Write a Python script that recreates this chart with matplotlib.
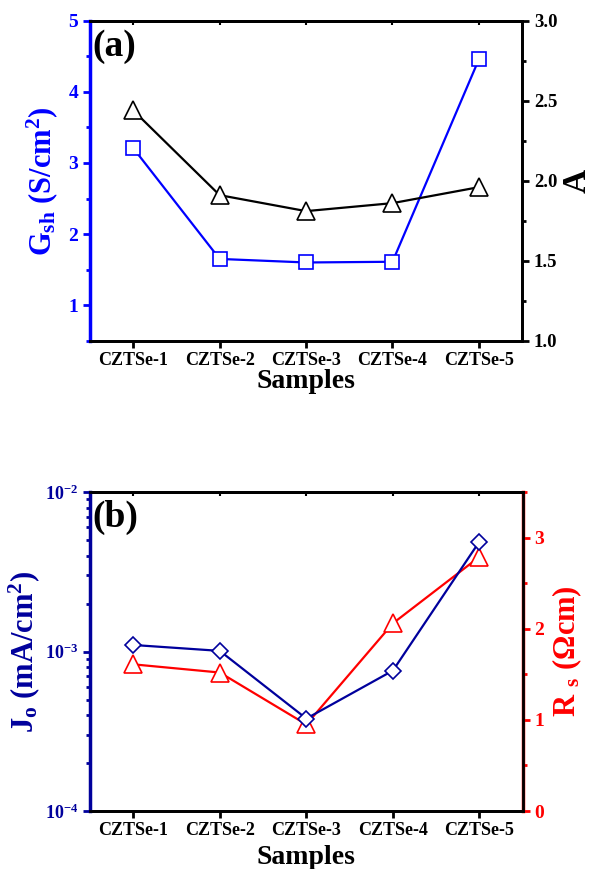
import matplotlib
matplotlib.use('Agg')
import matplotlib.pyplot as plt
from matplotlib.ticker import MultipleLocator, FixedLocator, FixedFormatter, LogLocator, NullFormatter

# Times-like bold everywhere
plt.rcParams['font.family'] = ['Liberation Serif', 'DejaVu Serif']
plt.rcParams['font.weight'] = 'bold'
plt.rcParams['mathtext.fontset'] = 'custom'
plt.rcParams['mathtext.rm'] = 'Liberation Serif:bold'
plt.rcParams['mathtext.it'] = 'Liberation Serif:bold'
plt.rcParams['mathtext.bf'] = 'Liberation Serif:bold'

# Data
samples = ['CZTSe-1', 'CZTSe-2', 'CZTSe-3', 'CZTSe-4', 'CZTSe-5']
g_sh = [3.21, 1.65, 1.60, 1.61, 4.46]
ideality_a = [2.44, 1.91, 1.81, 1.86, 1.96]
j_o = [1.1e-3, 1.01e-3, 3.8e-4, 7.6e-4, 4.9e-3]
r_s = [1.61, 1.52, 0.95, 2.06, 2.79]

x = list(range(1, len(samples) + 1))

blue = '#0000ff'
navy = '#00009c'
red = '#ff0000'

fig = plt.figure(figsize=(5.92, 8.69), dpi=100)


def style_x(ax, pad):
    ax.set_xlim(0.5, 5.5)
    ax.set_xticks(x)
    ax.set_xticklabels(samples, fontsize=13, fontweight='bold')
    ax.tick_params(axis='x', direction='out', length=5, width=2, pad=3)
    top = ax.secondary_xaxis('top')
    top.set_xticks(x)
    top.set_xticklabels([])
    top.tick_params(direction='in', length=3, width=1.5)
    top.spines['top'].set_linewidth(2)
    ax.set_xlabel('Samples', fontsize=20, fontweight='bold', labelpad=pad)


# ---------- (a) ----------
ax1 = fig.add_axes([0.152, 0.608, 0.730, 0.368])
ax1.plot(x, g_sh, color=blue, lw=1.6, marker='s', ms=10, mfc='white',
         mec=blue, mew=1.2, zorder=3)
ax1.set_ylim(0.5, 5)
ax1.yaxis.set_major_locator(FixedLocator([1, 2, 3, 4, 5]))
ax1.yaxis.set_minor_locator(MultipleLocator(0.5))
ax1.tick_params(axis='y', which='major', direction='out', length=5, width=2,
                colors=blue, labelsize=14)
ax1.tick_params(axis='y', which='minor', direction='out', length=3, width=2,
                colors=blue)
ax1.set_ylabel(r'G$_{\rm sh}$ (S/cm$^{2}$)', color=blue, fontsize=22,
               fontweight='bold', labelpad=6)
style_x(ax1, 0)
for s in ax1.spines.values():
    s.set_linewidth(2)
ax1.spines['left'].set_color(blue)
ax1.spines['left'].set_linewidth(2.5)

ax1r = ax1.twinx()
ax1r.plot(x, ideality_a, color='black', lw=1.6, marker='^', ms=13,
          mfc='white', mec='black', mew=1.2, zorder=3)
ax1r.set_ylim(1.0, 3.0)
ax1r.yaxis.set_major_locator(MultipleLocator(0.5))
ax1r.yaxis.set_minor_locator(MultipleLocator(0.25))
ax1r.yaxis.set_major_formatter(matplotlib.ticker.FormatStrFormatter('%.1f'))
ax1r.tick_params(axis='y', which='major', direction='out', length=5, width=2,
                 labelsize=13.5)
ax1r.tick_params(axis='y', which='minor', direction='out', length=3, width=2)
ax1r.set_ylabel('A', fontsize=24, fontweight='bold', rotation=90, labelpad=3)
for s in ax1r.spines.values():
    s.set_linewidth(2)
ax1r.spines['left'].set_visible(False)
ax1.text(0.005, 0.975, '(a)', transform=ax1.transAxes, fontsize=27,
         fontweight='bold', va='top', ha='left')

# ---------- (b) ----------
ax2 = fig.add_axes([0.152, 0.0667, 0.731, 0.367])
ax2.plot(x, j_o, color=navy, lw=1.6, marker='D', ms=8.5, mfc='white',
         mec=navy, mew=1.2, zorder=3)
ax2.set_yscale('log')
ax2.set_ylim(1e-4, 1e-2)
ax2.yaxis.set_major_locator(FixedLocator([1e-4, 1e-3, 1e-2]))
ax2.yaxis.set_major_formatter(FixedFormatter([r'10$^{-4}$', r'10$^{-3}$', r'10$^{-2}$']))
ax2.yaxis.set_minor_locator(LogLocator(base=10, subs=range(2, 10)))
ax2.yaxis.set_minor_formatter(NullFormatter())
ax2.tick_params(axis='y', which='major', direction='out', length=5, width=2,
                colors=navy, labelsize=13)
ax2.tick_params(axis='y', which='minor', direction='out', length=3, width=2,
                colors=navy)
ax2.set_ylabel(r'J$_{\rm o}$ (mA/cm$^{2}$)', color=navy, fontsize=22,
               fontweight='bold', labelpad=2)
style_x(ax2, 4)
for s in ax2.spines.values():
    s.set_linewidth(2)
ax2.spines['left'].set_color(navy)
ax2.spines['left'].set_linewidth(2.5)

ax2r = ax2.twinx()
ax2r.plot(x, r_s, color=red, lw=1.6, marker='^', ms=13, mfc='white',
          mec=red, mew=1.2, zorder=2)
ax2r.set_ylim(0, 3.5)
ax2r.yaxis.set_major_locator(MultipleLocator(1))
ax2r.yaxis.set_minor_locator(MultipleLocator(0.5))
ax2r.tick_params(axis='y', which='major', direction='out', length=5, width=2,
                 colors=red, labelsize=14)
ax2r.tick_params(axis='y', which='minor', direction='out', length=3, width=2,
                 colors=red)
ax2r.set_ylabel(r'R$\ {}_{\rm s}$ ($\Omega$cm)', color=red, fontsize=22,
                fontweight='bold', rotation=90, labelpad=4)
for s in ax2r.spines.values():
    s.set_linewidth(2)
ax2r.spines['left'].set_visible(False)
ax2r.spines['right'].set_color(red)
ax2r.spines['right'].set_linewidth(2.5)
ax2.set_zorder(ax2r.get_zorder() + 1)
ax2.patch.set_visible(False)
ax2.text(0.005, 0.975, '(b)', transform=ax2.transAxes, fontsize=27,
         fontweight='bold', va='top', ha='left')

fig.savefig('out.png', dpi=100)
